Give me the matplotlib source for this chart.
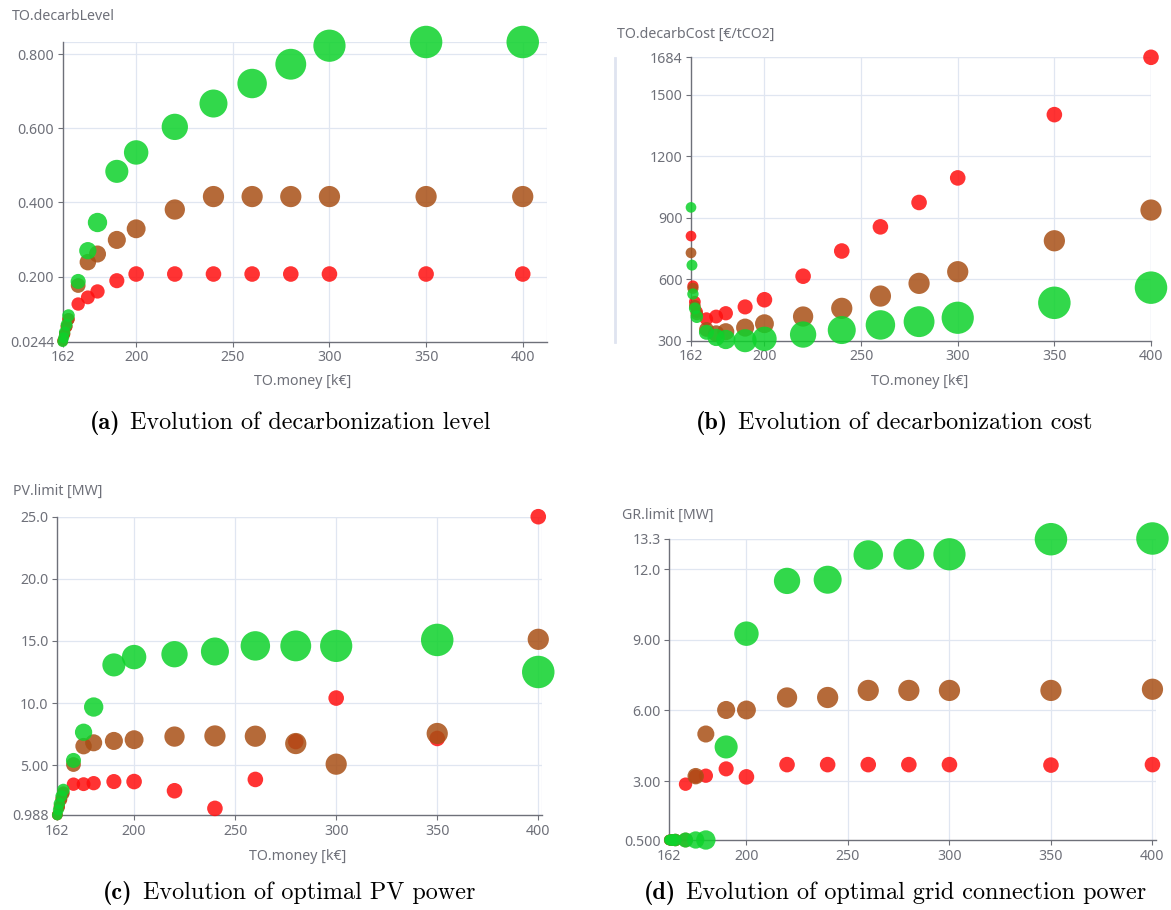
import matplotlib
matplotlib.use("Agg")
import matplotlib.pyplot as plt
from matplotlib.lines import Line2D

# ---------------------------------------------------------------- data
money_red = [162, 163, 164, 165, 170, 175, 180, 190, 200, 220, 240, 260, 280, 300, 350, 400]
money_brown = [162, 163, 164, 165, 170, 175, 180, 190, 200, 220, 240, 260, 280, 300, 350, 400]
money_green = [162, 162.5, 163, 164, 165, 170, 175, 180, 190, 200, 220, 240, 260, 280, 300, 350, 400]

# TO.decarbLevel
level_red = [0.026, 0.045, 0.065, 0.085, 0.126, 0.144, 0.160, 0.189, 0.207, 0.207,
             0.207, 0.207, 0.207, 0.207, 0.207, 0.207]
level_brown = [0.028, 0.045, 0.065, 0.085, 0.176, 0.239, 0.261, 0.299, 0.329, 0.381,
               0.416, 0.416, 0.416, 0.416, 0.416, 0.416]
level_green = [0.0244, 0.035, 0.050, 0.070, 0.095, 0.187, 0.270, 0.346, 0.484, 0.535,
               0.604, 0.667, 0.721, 0.773, 0.823, 0.833, 0.833]

# TO.decarbCost [EUR/tCO2]
cost_red = [811, 567, 490, 441, 406, 418, 434, 465, 500, 615, 738, 856, 975, 1095, 1404, 1684]
cost_brown = [729, 556, 470, 430, 355, 335, 344, 364, 383, 418, 458, 518, 580, 637, 788, 938]
cost_green = [951, 669, 528, 458, 417, 341, 316, 306, 300, 309, 330, 352, 377, 393, 412, 485, 559]

# PV.limit [MW]
pv_red = [1.0, 1.7, 2.3, 2.8, 3.47, 3.47, 3.55, 3.68, 3.68, 2.94, 1.52, 3.85, 6.9, 10.4, 7.15, 25.0]
pv_brown = [1.0, 1.6, 2.2, 2.7, 5.05, 6.53, 6.8, 6.95, 7.05, 7.3, 7.35, 7.33, 6.74, 5.08, 7.55, 15.13]
pv_green = [0.988, 1.4, 1.9, 2.5, 3.0, 5.38, 7.65, 9.68, 13.07, 13.7, 13.93, 14.15, 14.6, 14.6,
            14.6, 15.08, 12.5]

# GR.limit [MW]
gr_red = [0.5, 0.5, 0.5, 0.5, 2.87, 3.2, 3.23, 3.52, 3.18, 3.7, 3.7, 3.7, 3.7, 3.7, 3.68, 3.7]
gr_brown = [0.5, 0.5, 0.5, 0.5, 0.5, 3.21, 5.0, 6.02, 6.02, 6.55, 6.55, 6.85, 6.85, 6.85, 6.85, 6.9]
gr_green = [0.5, 0.5, 0.5, 0.5, 0.5, 0.5, 0.5, 0.5, 4.45, 9.26, 11.5, 11.55, 12.6, 12.63, 12.63,
            13.27, 13.3]

x_ticks = [162, 200, 250, 300, 350, 400]
x_tick_labels = ["162", "200", "250", "300", "350", "400"]

yticks_level = [0.0244, 0.2, 0.4, 0.6, 0.8]
ylabels_level = ["0.0244", "0.200", "0.400", "0.600", "0.800"]
yticks_cost = [300, 600, 900, 1200, 1500, 1684]
ylabels_cost = ["300", "600", "900", "1200", "1500", "1684"]
yticks_pv = [0.988, 5, 10, 15, 20, 25]
ylabels_pv = ["0.988", "5.00", "10.0", "15.0", "20.0", "25.0"]
yticks_gr = [0.5, 3, 6, 9, 12, 13.3]
ylabels_gr = ["0.500", "3.00", "6.00", "9.00", "12.0", "13.3"]

captions = ["Evolution of decarbonization level", "Evolution of decarbonization cost",
            "Evolution of optimal PV power", "Evolution of optimal grid connection power"]
caption_tags = ["(a)", "(b)", "(c)", "(d)"]
y_names = ["TO.decarbLevel", "TO.decarbCost [€/tCO2]", "PV.limit [MW]", "GR.limit [MW]"]
x_name = "TO.money [k€]"

# ---------------------------------------------------------------- style
W, H = 1171, 910
DPI = 100
TXT = "#6e7079"
GRID = "#e0e6f1"
C_RED = "#ff0f0f"
C_BROWN = "#a85016"
C_GREEN = "#0ed22b"
ALPHA = 0.85
SANS = ["Noto Sans", "DejaVu Sans"]
FS = 10.2
CAP_FS = 17.4
CAP_GAP = 10  # px between the bold tag and the caption text

plt.rcParams["font.family"] = SANS


def fx(px):
    return px / W


def fy(py):
    return 1 - py / H


def rect(l, t, r, b):
    return [l / W, 1 - b / H, (r - l) / W, (b - t) / H]


def bubble_area(levels):
    # symbol diameter grows with the decarbonisation level
    return [((10 + 27.0 * v) * 72 / DPI) ** 2 for v in levels]


fig = plt.figure(figsize=(W / DPI, H / DPI), dpi=DPI)
fig.patch.set_facecolor("white")
renderer = fig.canvas.get_renderer()

panels = [
    dict(rect=rect(62.7, 42, 546.7, 341.7), xlim=(162, 412.4), ylim=(0.0244, 0.833),
         yt=yticks_level, yl=ylabels_level,
         ys=(level_red, level_brown, level_green),
         yname=(11.7, 16), xname=(303, 381), cap=(290, 423)),
    dict(rect=rect(691, 57.3, 1151, 340.7), xlim=(162, 400), ylim=(300, 1684),
         yt=yticks_cost, yl=ylabels_cost,
         ys=(cost_red, cost_brown, cost_green),
         yname=(616.7, 34), xname=(920, 381.5), cap=(894, 423)),
    dict(rect=rect(57.3, 516.7, 541.7, 815), xlim=(162, 401.7), ylim=(0.988, 25.0),
         yt=yticks_pv, yl=ylabels_pv,
         ys=(pv_red, pv_brown, pv_green),
         yname=(12.7, 491.7), xname=(298, 856), cap=(289, 893)),
    dict(rect=rect(669.3, 538.5, 1155.5, 840), xlim=(162, 401.5), ylim=(0.5, 13.3),
         yt=yticks_gr, yl=ylabels_gr,
         ys=(gr_red, gr_brown, gr_green),
         yname=(621.7, 515), xname=None, cap=(895, 893)),
]

for i, p in enumerate(panels):
    ax = fig.add_axes(p["rect"])
    ax.set_facecolor("white")
    ax.set_xlim(*p["xlim"])
    ax.set_ylim(*p["ylim"])

    # split lines, including the ones at the axis maxima
    for xv in x_ticks[1:] + [p["xlim"][1]]:
        ax.axvline(xv, color=GRID, lw=0.9, zorder=0)
    for yv in p["yt"][1:] + [p["ylim"][1]]:
        ax.axhline(yv, color=GRID, lw=0.9, zorder=0)

    for side in ("top", "right"):
        ax.spines[side].set_visible(False)
    for side in ("left", "bottom"):
        ax.spines[side].set_color(TXT)
        ax.spines[side].set_linewidth(1.0)
        ax.spines[side].set_zorder(1)

    ax.set_xticks(x_ticks)
    ax.set_xticklabels(x_tick_labels)
    ax.set_yticks(p["yt"])
    ax.set_yticklabels(p["yl"])
    ax.tick_params(axis="both", direction="out", length=3.6, width=0.8, color=TXT,
                   labelcolor=TXT, labelsize=FS, pad=2.6)

    y_red, y_brown, y_green = p["ys"]
    ax.scatter(money_red, y_red, s=bubble_area(level_red), color=C_RED,
               alpha=ALPHA, linewidths=0, clip_on=False, zorder=3)
    ax.scatter(money_brown, y_brown, s=bubble_area(level_brown), color=C_BROWN,
               alpha=ALPHA, linewidths=0, clip_on=False, zorder=4)
    ax.scatter(money_green, y_green, s=bubble_area(level_green), color=C_GREEN,
               alpha=ALPHA, linewidths=0, clip_on=False, zorder=5)

    # axis names
    nx, ny = p["yname"]
    fig.text(fx(nx), fy(ny), y_names[i], color=TXT, fontsize=FS, ha="left", va="center")
    if p["xname"] is not None:
        cx, cy = p["xname"]
        fig.text(fx(cx), fy(cy), x_name, color=TXT, fontsize=FS, ha="center", va="center")

    # sub-figure caption: bold tag followed by the roman text, centred as a whole
    capx, capy = p["cap"]
    tag = fig.text(0, fy(capy), caption_tags[i], fontfamily="cmb10", fontsize=CAP_FS,
                   color="black", ha="left", va="baseline")
    body = fig.text(0, fy(capy), captions[i], fontfamily="cmr10", fontsize=CAP_FS,
                    color="black", ha="left", va="baseline")
    w_tag = tag.get_window_extent(renderer).width
    w_body = body.get_window_extent(renderer).width
    x0 = capx - (w_tag + CAP_GAP + w_body) / 2
    tag.set_x(fx(x0))
    body.set_x(fx(x0 + w_tag + CAP_GAP))
    base = fy(capy + 6)
    tag.set_y(base)
    body.set_y(base)

# thin slider strip next to the cost chart
fig.add_artist(Line2D([fx(615), fx(615)], [fy(58), fy(342)], color="#dfe4f0", lw=2.0))

fig.savefig("out.png", dpi=DPI, facecolor="white")
